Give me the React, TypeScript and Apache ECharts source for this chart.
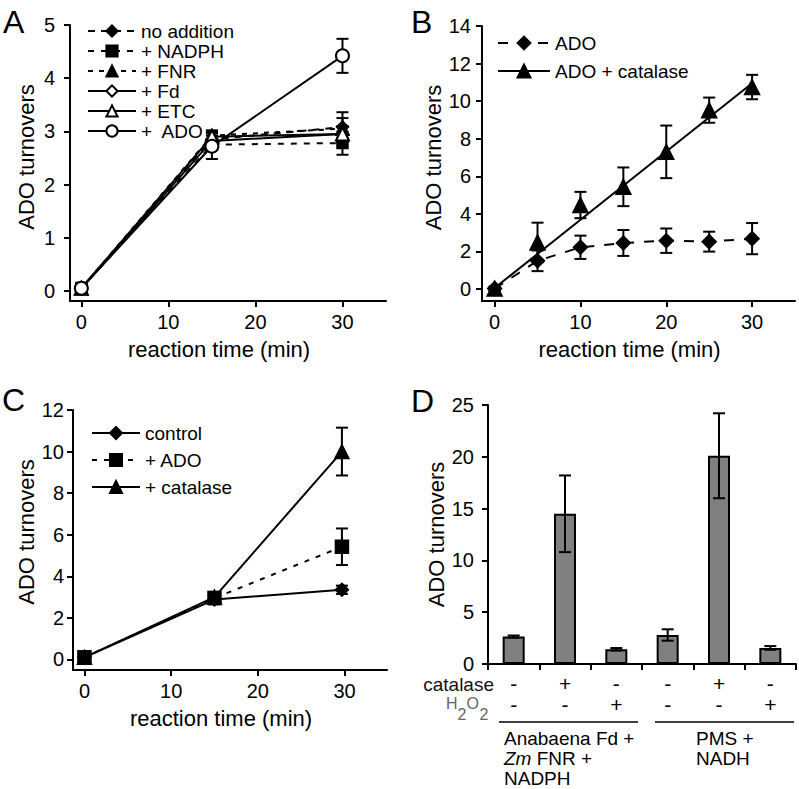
import React, { useEffect, useRef } from 'react';
import * as echarts from 'echarts';

const FONT = '"Liberation Sans", Arial, Helvetica, sans-serif';

// ---------- Panel A ----------
const timesA = [0, 15, 30];
const noAddition = [0.05, 2.85, 3.08];
const noAdditionErr = [0.1, 0.12, 0.28];
const nadph = [0.05, 2.75, 2.78];
const nadphErr = [0.1, 0.1, 0.22];
const fnr = [0.05, 2.92, 3.05];
const fnrErr = [0.1, 0.1, 0.2];
const fd = [0.05, 2.82, 2.95];
const fdErr = [0.08, 0.1, 0.15];
const etc = [0.05, 2.9, 2.95];
const etcErr = [0.08, 0.1, 0.15];
const adoA = [0.05, 2.72, 4.42];
const adoAErr = [0.1, 0.24, 0.32];
const xTicksA = [0, 10, 20, 30];
const yTicksA = [0, 1, 2, 3, 4, 5];

// ---------- Panel B ----------
const timesB = [0, 5, 10, 15, 20, 25, 30];
const adoB = [0.02, 1.5, 2.22, 2.45, 2.57, 2.52, 2.68];
const adoBErr = [0.1, 0.55, 0.62, 0.69, 0.65, 0.53, 0.83];
const catalaseB = [0.02, 2.48, 4.47, 5.44, 7.3, 9.52, 10.75];
const catalaseBErr = [0.1, 1.05, 0.7, 1.03, 1.4, 0.67, 0.65];
const fitTimesB = [0, 30];
const fitValuesB = [0.05, 10.95];
const xTicksB = [0, 10, 20, 30];
const yTicksB = [0, 2, 4, 6, 8, 10, 12, 14];

// ---------- Panel C ----------
const timesC = [0, 15, 29.7];
const controlC = [0.1, 2.88, 3.35];
const controlCErr = [0.1, 0.1, 0.2];
const adoC = [0.1, 2.95, 5.42];
const adoCErr = [0.1, 0.3, 0.88];
const catalaseC = [0.1, 3.0, 10.0];
const catalaseCErr = [0.1, 0.2, 1.15];
const xTicksC = [0, 10, 20, 30];
const yTicksC = [0, 2, 4, 6, 8, 10, 12];

// ---------- Panel D ----------
const categoriesD = ['Fd/FNR', 'Fd/FNR + catalase', 'Fd/FNR + H2O2', 'PMS', 'PMS + catalase', 'PMS + H2O2'];
const valuesD = [2.65, 14.5, 1.42, 2.8, 20.1, 1.55];
const errorsD = [0.1, 3.7, 0.12, 0.55, 4.1, 0.18];
const catalaseSigns = ['-', '+', '-', '-', '+', '-'];
const h2o2Signs = ['-', '-', '+', '-', '-', '+'];

const pts = (xs: number[], ys: number[]) => xs.map((x, i) => [x, ys[i]]);
const errs = (xs: number[], ys: number[], es: number[]) => xs.map((x, i) => [x, ys[i] - es[i], ys[i] + es[i]]);

const errorRender = (cap: number, width: number) => (params: any, api: any) => {
  const x = api.value(0);
  const lo = api.value(1);
  const hi = api.value(2);
  const p1 = api.coord([x, hi]);
  const p2 = api.coord([x, lo]);
  const style = { stroke: '#000', lineWidth: width, fill: 'none' };
  return {
    type: 'group',
    children: [
      { type: 'line', shape: { x1: p1[0], y1: p1[1], x2: p2[0], y2: p2[1] }, style },
      { type: 'line', shape: { x1: p1[0] - cap, y1: p1[1], x2: p1[0] + cap, y2: p1[1] }, style },
      { type: 'line', shape: { x1: p2[0] - cap, y1: p2[1], x2: p2[0] + cap, y2: p2[1] }, style },
    ],
  };
};

const errSeries = (name: string, axis: number, data: number[][], cap = 6) => ({
  type: 'custom',
  name,
  xAxisIndex: axis,
  yAxisIndex: axis,
  data,
  encode: { x: 0, y: [1, 2] },
  renderItem: errorRender(cap, 2),
  z: 2,
  silent: true,
});

const lineSeries = (
  name: string,
  axis: number,
  xs: number[],
  ys: number[],
  symbol: string,
  size: number,
  dash: any
) => ({
  type: 'line',
  name,
  xAxisIndex: axis,
  yAxisIndex: axis,
  data: pts(xs, ys),
  symbol,
  symbolSize: size,
  showSymbol: true,
  lineStyle: { color: '#000', width: 2, type: dash },
  itemStyle: { color: '#000', borderColor: '#000', borderWidth: 1.5 },
  z: 3,
});

const axisCommon = {
  axisLine: { show: true, onZero: false, lineStyle: { color: '#000', width: 2 } },
  splitLine: { show: false },
};

const valueXAxis = (grid: number, min: number, max: number, ticks: number[]) => ({
  type: 'value',
  gridIndex: grid,
  min,
  max,
  ...axisCommon,
  axisTick: { show: true, length: 6, customValues: ticks, lineStyle: { color: '#000', width: 2 } },
  axisLabel: { customValues: ticks, fontSize: 20, fontFamily: FONT, color: '#000', margin: 11 },
  name: 'reaction time (min)',
  nameLocation: 'middle',
  nameGap: 37,
  nameTextStyle: { fontSize: 22, fontFamily: FONT, color: '#000', padding: [0, 18, 0, 0] },
});

const valueYAxis = (grid: number, min: number, max: number, ticks: number[], margin: number, gap: number, shift: number) => ({
  type: 'value',
  gridIndex: grid,
  min,
  max,
  ...axisCommon,
  axisTick: { show: true, length: 6, customValues: ticks, lineStyle: { color: '#000', width: 2 } },
  axisLabel: { customValues: ticks, fontSize: 20, fontFamily: FONT, color: '#000', margin },
  name: 'ADO turnovers',
  nameLocation: 'middle',
  nameGap: gap,
  nameTextStyle: { fontSize: 22, fontFamily: FONT, color: '#000', padding: [0, 0, 0, shift] },
});

const legendBase = {
  orient: 'vertical',
  padding: 0,
  selectedMode: false,
  itemHeight: 14,
  textStyle: { fontSize: 19, fontFamily: FONT, color: '#000', lineHeight: 20 },
};

const txt = (text: string, x: number, y: number, size: number, extra: any = {}) => ({
  type: 'text',
  x,
  y,
  silent: true,
  style: {
    text,
    fill: '#000',
    fontSize: size,
    fontFamily: FONT,
    align: 'left',
    verticalAlign: 'middle',
    ...extra,
  },
});

const option: any = {
  animation: false,
  backgroundColor: '#fff',
  grid: [
    { left: 70, top: 25, width: 316, height: 276 },
    { left: 482, top: 26, width: 313, height: 275 },
    { left: 73, top: 410, width: 314, height: 260 },
    { left: 488, top: 405, width: 308, height: 259 },
  ],
  xAxis: [
    valueXAxis(0, -1.3, 35, xTicksA),
    valueXAxis(1, -1.47, 35, xTicksB),
    valueXAxis(2, -1.32, 34.9, xTicksC),
    {
      type: 'category',
      gridIndex: 3,
      data: categoriesD,
      ...axisCommon,
      axisTick: { show: true, length: 6, lineStyle: { color: '#000', width: 2 } },
      axisLabel: {
        fontSize: 21,
        fontFamily: FONT,
        color: '#000',
        margin: 9,
        lineHeight: 21,
        formatter: (v: string, i: number) => `${catalaseSigns[i]}\n${h2o2Signs[i]}`,
      },
    },
  ],
  yAxis: [
    valueYAxis(0, -0.19, 5, yTicksA, 15, 33, 12),
    valueYAxis(1, -0.64, 14, yTicksB, 11, 36, 12),
    valueYAxis(2, -0.51, 12, yTicksC, 9, 32, 16),
    {
      type: 'value',
      gridIndex: 3,
      min: 0,
      max: 25,
      interval: 5,
      ...axisCommon,
      axisTick: { show: true, length: 6, lineStyle: { color: '#000', width: 2 } },
      axisLabel: { fontSize: 20, fontFamily: FONT, color: '#000', margin: 14 },
      name: 'ADO turnovers',
      nameLocation: 'middle',
      nameGap: 41,
      nameTextStyle: { fontSize: 22, fontFamily: FONT, color: '#000' },
    },
  ],
  legend: [
    {
      ...legendBase,
      left: 87,
      top: 21,
      itemWidth: 48,
      itemGap: 0,
      data: ['no addition', '+ NADPH', '+ FNR', '+ Fd', '+ ETC', '+  ADO'],
    },
    {
      ...legendBase,
      left: 497,
      top: 33,
      itemWidth: 52,
      itemHeight: 16,
      itemGap: 8,
      data: [
        'ADO',
        { name: 'ADO + catalase', lineStyle: { opacity: 1, width: 2, type: 'solid', color: '#000' } },
      ],
    },
    {
      ...legendBase,
      left: 91,
      top: 423,
      itemWidth: 48,
      itemHeight: 15,
      itemGap: 7,
      data: ['control', '+ ADO', '+ catalase'],
    },
  ],
  series: [
    // Panel A
    errSeries('errA1', 0, errs(timesA, noAddition, noAdditionErr)),
    errSeries('errA2', 0, errs(timesA, nadph, nadphErr)),
    errSeries('errA3', 0, errs(timesA, fnr, fnrErr)),
    errSeries('errA4', 0, errs(timesA, fd, fdErr)),
    errSeries('errA5', 0, errs(timesA, etc, etcErr)),
    errSeries('errA6', 0, errs(timesA, adoA, adoAErr)),
    lineSeries('no addition', 0, timesA, noAddition, 'diamond', 12, [7, 6]),
    lineSeries('+ NADPH', 0, timesA, nadph, 'rect', 11, [6, 7]),
    lineSeries('+ FNR', 0, timesA, fnr, 'triangle', 13, [5, 6]),
    lineSeries('+ Fd', 0, timesA, fd, 'emptyDiamond', 12, 'solid'),
    lineSeries('+ ETC', 0, timesA, etc, 'emptyTriangle', 13, 'solid'),
    lineSeries('+  ADO', 0, timesA, adoA, 'emptyCircle', 13, 'solid'),
    // Panel B
    errSeries('errB1', 1, errs(timesB, adoB, adoBErr)),
    errSeries('errB2', 1, errs(timesB, catalaseB, catalaseBErr)),
    {
      type: 'line',
      name: 'fitB',
      xAxisIndex: 1,
      yAxisIndex: 1,
      data: pts(fitTimesB, fitValuesB),
      symbol: 'none',
      lineStyle: { color: '#000', width: 2 },
      z: 3,
    },
    lineSeries('ADO', 1, timesB, adoB, 'diamond', 14, [10, 10]),
    {
      ...lineSeries('ADO + catalase', 1, timesB, catalaseB, 'triangle', 15, 'solid'),
      lineStyle: { color: '#000', width: 2, opacity: 0 },
    },
    // Panel C
    errSeries('errC1', 2, errs(timesC, controlC, controlCErr)),
    errSeries('errC2', 2, errs(timesC, adoC, adoCErr)),
    errSeries('errC3', 2, errs(timesC, catalaseC, catalaseCErr)),
    lineSeries('control', 2, timesC, controlC, 'diamond', 13, 'solid'),
    lineSeries('+ ADO', 2, timesC, adoC, 'rect', 13, [5, 7]),
    lineSeries('+ catalase', 2, timesC, catalaseC, 'triangle', 14, 'solid'),
    // Panel D
    {
      type: 'bar',
      name: 'turnoversD',
      xAxisIndex: 3,
      yAxisIndex: 3,
      data: valuesD,
      barWidth: 22,
      itemStyle: { color: '#808080', borderColor: '#000', borderWidth: 2 },
      z: 2,
    },
    {
      ...errSeries('errD', 3, valuesD.map((v, i) => [i, v - errorsD[i], v + errorsD[i]])),
      z: 5,
    },
  ],
  graphic: [
    txt('A', 3, 22, 32),
    txt('B', 411, 22, 32),
    txt('C', 2, 400, 32),
    txt('D', 411, 401, 32),
    txt('catalase', 494, 684.5, 19, { align: 'right', fill: '#111' }),
    txt('H', 446, 703.5, 16, { fill: '#666' }),
    txt('2', 457.5, 714, 16, { fill: '#666' }),
    txt('O', 466.5, 703.5, 16, { fill: '#666' }),
    txt('2', 479.5, 714, 16, { fill: '#666' }),
    { type: 'line', silent: true, shape: { x1: 499, y1: 722, x2: 638, y2: 722 }, style: { stroke: '#000', lineWidth: 1.5 } },
    { type: 'line', silent: true, shape: { x1: 655, y1: 722, x2: 794, y2: 722 }, style: { stroke: '#000', lineWidth: 1.5 } },
    txt('Anabaena Fd +', 504, 738, 19),
    {
      type: 'text',
      x: 504,
      y: 758,
      silent: true,
      style: {
        text: '{i|Zm}{n| FNR +}',
        align: 'left',
        verticalAlign: 'middle',
        fill: '#000',
        rich: {
          i: { fontSize: 19, fontFamily: FONT, fontStyle: 'italic', fill: '#000' },
          n: { fontSize: 19, fontFamily: FONT, fill: '#000' },
        },
      },
    },
    txt('NADPH', 504, 778, 19),
    txt('PMS +', 696, 738, 19),
    txt('NADH', 696, 758, 19),
  ],
};

export default function App() {
  const ref = useRef<HTMLDivElement>(null);
  useEffect(() => {
    const chart = echarts.init(ref.current as HTMLDivElement, null, { renderer: 'svg' });
    chart.setOption(option);
    return () => chart.dispose();
  }, []);
  return (
    <div
      ref={ref}
      style={{ position: 'absolute', left: 0, top: 0, width: 799, height: 789, background: '#fff' }}
    />
  );
}
